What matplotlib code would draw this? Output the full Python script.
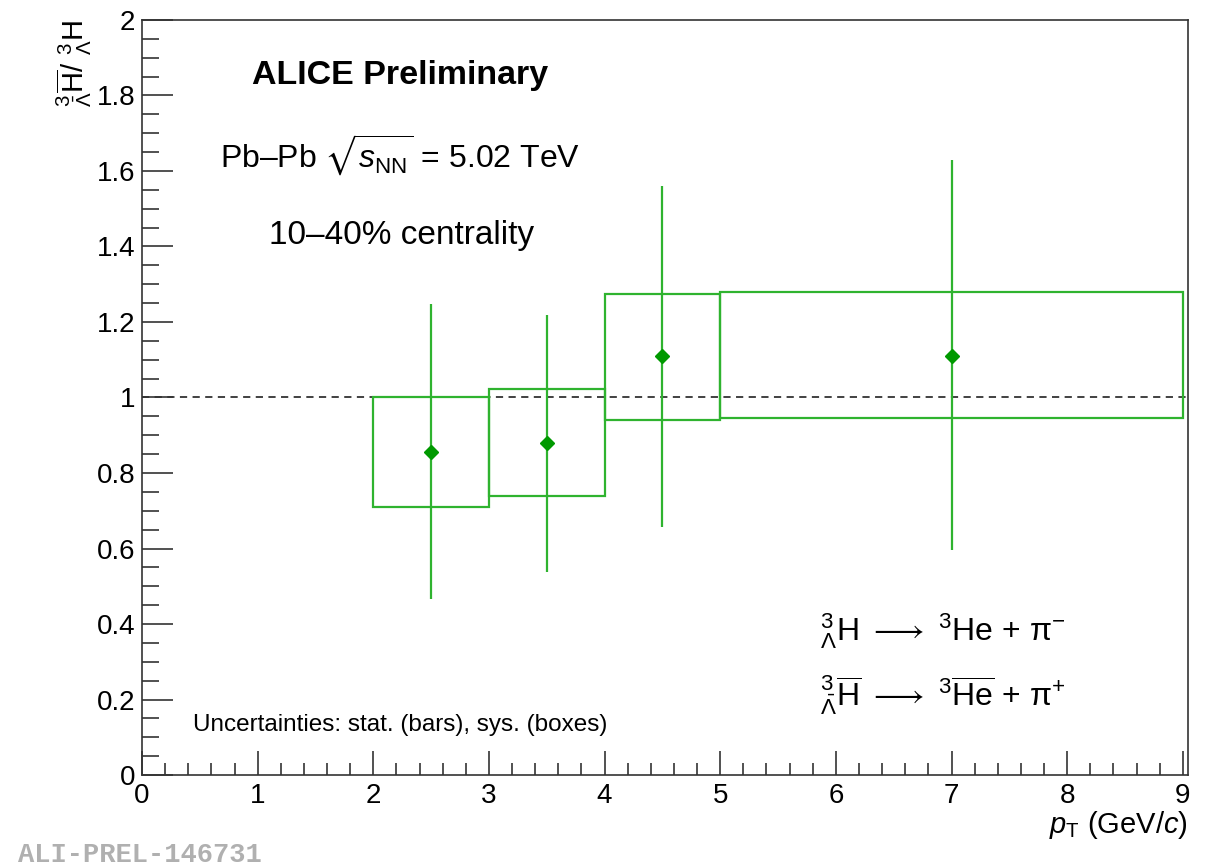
import numpy as np
import matplotlib
matplotlib.use("Agg")
import matplotlib.pyplot as plt
from matplotlib.ticker import MultipleLocator

plt.rcParams['font.family'] = ['Liberation Sans', 'DejaVu Sans']
plt.rcParams['mathtext.fontset'] = 'custom'
plt.rcParams['mathtext.rm'] = 'Liberation Sans'
plt.rcParams['mathtext.it'] = 'Liberation Sans:italic'
plt.rcParams['mathtext.bf'] = 'Liberation Sans:bold'
plt.rcParams['mathtext.fallback'] = 'stixsans'

# ratio anti-hypertriton / hypertriton vs pT
pt = np.array([2.5, 3.5, 4.5, 7.0])
bin_lo = np.array([2.0, 3.0, 4.0, 5.0])
bin_hi = np.array([3.0, 4.0, 5.0, 9.0])
ratio = np.array([0.855, 0.879, 1.110, 1.110])
stat_up = np.array([1.248, 1.219, 1.559, 1.628])
stat_dn = np.array([0.465, 0.537, 0.656, 0.595])
sys_up = np.array([1.002, 1.023, 1.275, 1.280])
sys_dn = np.array([0.709, 0.738, 0.940, 0.946])

green_pt = '#009900'
green_ln = '#2fb32f'

fig = plt.figure(figsize=(12.11, 8.66), dpi=100)
ax = fig.add_axes([0.1173, 0.105, 0.8637, 0.872])

# sys boxes
ax.bar((bin_lo + bin_hi) / 2, sys_up - sys_dn, width=bin_hi - bin_lo, bottom=sys_dn,
       fill=False, edgecolor=green_ln, linewidth=1.6, zorder=2)

# stat bars + points
ax.errorbar(pt, ratio, yerr=[ratio - stat_dn, stat_up - ratio], fmt='D', color=green_pt,
            ecolor=green_ln, elinewidth=1.6, capsize=0, markersize=7, zorder=3)

ax.axhline(1.0, color='#333333', linestyle=(0, (4, 3)), linewidth=1.3, zorder=1)

ax.set_xlim(0, 9.045)
ax.set_ylim(0, 2)
ax.set_xticks(np.arange(0, 10, 1))
ax.set_xticks(np.arange(0, 9.01, 0.2), minor=True)
ax.yaxis.set_major_locator(MultipleLocator(0.2))
ax.yaxis.set_minor_locator(MultipleLocator(0.05))
ax.yaxis.set_major_formatter(plt.FuncFormatter(lambda v, p: ('%g' % round(v, 2))))

ax.tick_params(which='both', direction='in', top=False, right=False, width=1.2,
               labelsize=20, color='#333333')
ax.tick_params(axis='x', which='major', length=17, pad=6)
ax.tick_params(axis='x', which='minor', length=9)
ax.tick_params(axis='y', which='major', length=22, pad=5)
ax.tick_params(axis='y', which='minor', length=12)
for s in ax.spines.values():
    s.set_linewidth(1.2)
    s.set_color('#333333')

ax.set_xlabel(r'$p_{\rm T}$ (GeV/$c$)', fontsize=21, loc='right', labelpad=0)
ax.set_ylabel(r'${}^{3}_{\bar{\Lambda}}\overline{\rm H}/\ {}^{3}_{\Lambda}{\rm H}$',
              fontsize=21, loc='top', labelpad=2)

ax.text(0.105, 0.927, 'ALICE Preliminary', transform=ax.transAxes, fontsize=24.5,
        fontweight='bold', va='center', ha='left')
ax.text(0.075, 0.821, r'Pb–Pb $\sqrt{s_{\rm NN}}$ = 5.02 TeV', transform=ax.transAxes,
        fontsize=23, va='center', ha='left')
ax.text(0.121, 0.715, '10–40% centrality', transform=ax.transAxes, fontsize=24,
        va='center', ha='left')
ax.text(0.049, 0.066, 'Uncertainties: stat. (bars), sys. (boxes)', transform=ax.transAxes,
        fontsize=17.5, va='center', ha='left')
ax.text(0.648, 0.19, r'${}^{3}_{\Lambda}$H $\longrightarrow$ ${}^{3}$He + π$^{-}$',
        transform=ax.transAxes, fontsize=23, va='center', ha='left')
ax.text(0.648, 0.105,
        r'${}^{3}_{\bar{\Lambda}}\overline{\rm H}$ $\longrightarrow$ ${}^{3}\overline{\rm He}$ + π$^{+}$',
        transform=ax.transAxes, fontsize=23, va='center', ha='left')

fig.text(0.015, 0.013, 'ALI-PREL-146731', family='Liberation Mono', fontweight='bold',
         fontsize=19.5, color='#b0b0b0', ha='left', va='center')

fig.savefig('out.png', dpi=100)
